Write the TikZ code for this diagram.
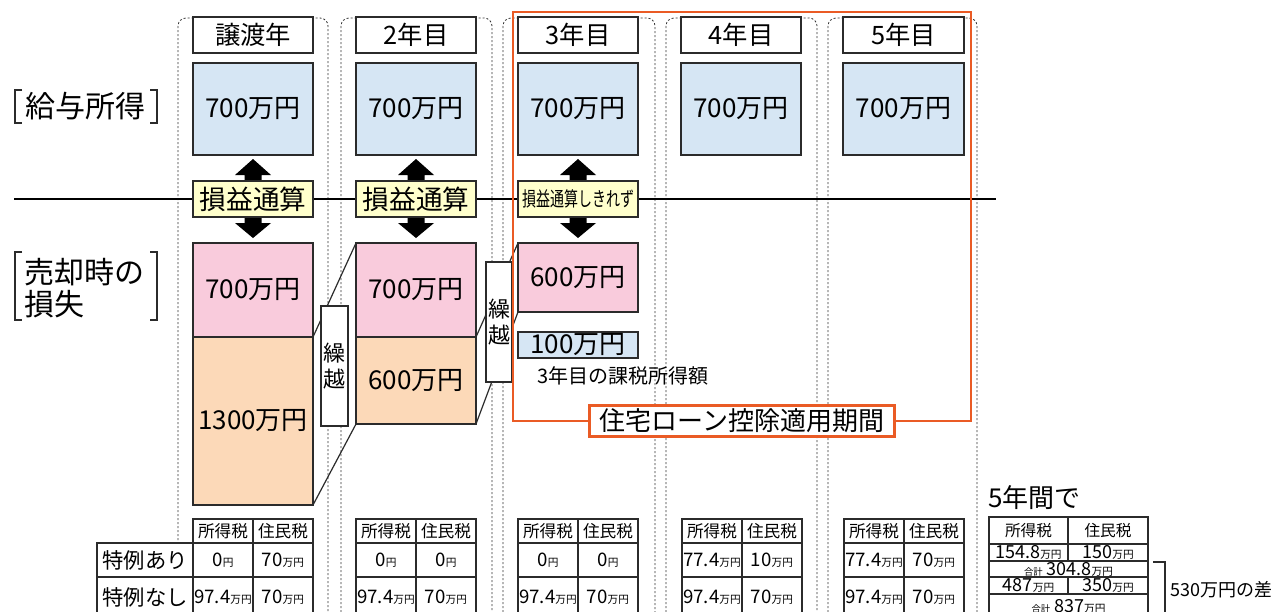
\documentclass[tikz,border=0pt]{standalone}
\usepackage{fontspec}
\setmainfont{Noto Sans CJK JP}
\usepackage{graphicx}
\definecolor{bluef}{HTML}{D6E6F4}
\definecolor{pinkf}{HTML}{F9CBDC}
\definecolor{peachf}{HTML}{FCD9B8}
\definecolor{yelf}{HTML}{FFFFCC}
\definecolor{orng}{HTML}{EA5B25}
\definecolor{edge}{HTML}{2B2B2B}
\newcommand{\fsz}[1]{\fontsize{#1}{#1}\selectfont}
\newcommand{\myman}{{\fsz{8}万円}}
\newcommand{\myen}{{\fsz{8}円}}
\newcommand{\mybox}[8]{%
  \node[boxst,#6,minimum width={(#4-#2)*0.75pt},minimum height={(#5-#3)*0.75pt}] (#1) at (#2,#3) {};
  \node[txtst,#7] (#1t) at (#1.center) {#8};}
\newcommand{\dblarrow}[2]{%
  \fill[black] (#1,159) -- ({#1+18},175) -- ({#1+8.5},175) -- ({#1+8.5},223) -- ({#1+18},223) -- (#1,238)
   -- ({#1-18},223) -- ({#1-8.5},223) -- ({#1-8.5},175) -- ({#1-18},175) -- cycle;
  \coordinate (#2) at (#1,199);}
\begin{document}
\begin{tikzpicture}[x=0.75pt,y=-0.75pt,
  boxst/.style={draw=edge,line width=1pt,inner sep=0pt,outer sep=0pt,anchor=north west,fill=white},
  txtst/.style={inner sep=0pt,align=center,anchor=center},
  colst/.style={draw=black!80,line width=0.6pt,dash pattern=on 1.5pt off 1.5pt,rounded corners=6pt},
  bluebox/.style={fill=bluef},
  pinkbox/.style={fill=pinkf},
  peachbox/.style={fill=peachf},
  yelbox/.style={fill=yelf},
  cellbox/.style={line width=0.8pt},
  hdrf/.style={font=\fsz{19}},
  amtf/.style={font=\fsz{19.5}},
  sonf/.style={font=\fsz{20}},
  kurif/.style={font=\fontsize{16.5}{20}\selectfont},
  thf/.style={font=\fsz{12.5}},
  numf/.style={font=\fsz{14}},
  labf/.style={font=\fsz{16}},
  rtf/.style={font=\fsz{11.75}},
  rnf/.style={font=\fsz{13.5}},
  conn/.style={draw=edge,line width=0.9pt},
  brk/.style={draw=edge,line width=0.9pt},
]
\clip (0,0) rectangle (1280,611);
\fill[white] (0,0) rectangle (1280,611);
% dotted year columns
\foreach \a/\b in {178/328, 341/492, 503/655, 666/817, 828/977}
  \draw[colst] (\a,660) -- (\a,18) -- (\b,18) -- (\b,660);
% dividing line
\coordinate (hl0) at (14,199);
\coordinate (hl1) at (996,199);
\draw[line width=1.4pt] (hl0) -- (hl1);
% left labels
\node[font=\fsz{22.5},inner sep=0] (kyuyo) at (85,106) {給与所得};
\draw[brk] (22,90) -- (15,90) -- (15,123) -- (22,123);
\draw[brk] (150,90) -- (157,90) -- (157,123) -- (150,123);
\node[font=\fontsize{22.5}{24}\selectfont,inner sep=0,align=left,anchor=west] (sonshitsu) at (24,288) {売却時の\\損失};
\draw[brk] (22,252) -- (15,252) -- (15,320) -- (22,320);
\draw[brk] (150,252) -- (157,252) -- (157,320) -- (150,320);
% year headers
\mybox{y1}{193}{17}{313}{53}{}{hdrf}{譲渡年}
\mybox{y2}{356}{17}{476}{53}{}{hdrf}{2年目}
\mybox{y3}{518}{17}{638}{53}{}{hdrf}{3年目}
\mybox{y4}{681}{17}{801}{53}{}{hdrf}{4年目}
\mybox{y5}{843}{17}{964}{53}{}{hdrf}{5年目}
% salary boxes
\mybox{s1}{193}{63}{313}{155}{bluebox}{amtf}{700万円}
\mybox{s2}{356}{63}{476}{155}{bluebox}{amtf}{700万円}
\mybox{s3}{518}{63}{638}{155}{bluebox}{amtf}{700万円}
\mybox{s4}{681}{63}{801}{155}{bluebox}{amtf}{700万円}
\mybox{s5}{843}{63}{964}{155}{bluebox}{amtf}{700万円}
% loss boxes
\mybox{c1a}{193}{243}{313}{337}{pinkbox}{amtf}{700万円}
\mybox{c1b}{193}{337}{313}{505}{peachbox}{amtf}{1300万円}
\mybox{c2a}{356}{243}{476}{337}{pinkbox}{amtf}{700万円}
\mybox{c2b}{356}{337}{476}{424}{peachbox}{amtf}{600万円}
\mybox{c3a}{518}{243}{638}{312}{pinkbox}{amtf}{600万円}
\mybox{c3b}{518}{332}{638}{358}{bluebox}{amtf}{100万円}
\node[font=\fsz{15},inner sep=0] (c3lbl) at (623,376) {3年目の課税所得額};
% carry-over connectors
\draw[conn] (c1b.north east) -- (c2a.north west);
\draw[conn] (c1b.south east) -- (c2b.south west);
\draw[conn] (c2b.north east) -- (c3a.north west);
\draw[conn] (c2b.south east) -- (c3a.south west);
\mybox{k1}{321}{306}{348}{426}{}{kurif}{繰\\越}
\mybox{k2}{486}{262}{512}{382}{}{kurif}{繰\\越}
% housing loan period
\node[draw=orng,line width=2pt,inner sep=0,outer sep=0,anchor=north west,
  minimum width={(971-513)*0.75pt},minimum height={(421-12)*0.75pt}] (period) at (513,12) {};
% arrows and offset labels
\dblarrow{253}{a1}
\dblarrow{416}{a2}
\dblarrow{578}{a3}
\mybox{o1}{193}{181}{313}{217}{yelbox}{sonf}{損益通算}
\mybox{o2}{356}{181}{476}{217}{yelbox}{sonf}{損益通算}
\mybox{o3}{518}{181}{638}{217}{yelbox}{}{\scalebox{0.7}[1]{\fsz{15}損益通算しきれず}}
\node[draw=orng,line width=2pt,fill=white,inner sep=0,
  minimum width={(888-583)*0.75pt},minimum height={(438-407)*0.75pt},font=\fsz{19.5}]
  (plabel) at (period.south) {住宅ローン控除適用期間};
% tax tables
\mybox{la}{97}{543}{193}{577}{cellbox}{labf}{特例あり}
\mybox{lb}{97}{577}{193}{617}{cellbox}{labf}{特例なし}
% T1
\mybox{t1h1}{193}{519}{253}{543}{cellbox}{thf}{所得税}
\mybox{t1h2}{253}{519}{313}{543}{cellbox}{thf}{住民税}
\mybox{t1a1}{193}{543}{253}{577}{cellbox}{numf}{0\myen}
\mybox{t1a2}{253}{543}{313}{577}{cellbox}{numf}{70\myman}
\mybox{t1b1}{193}{577}{253}{617}{cellbox}{numf}{97.4\myman}
\mybox{t1b2}{253}{577}{313}{617}{cellbox}{numf}{70\myman}
% T2
\mybox{t2h1}{356}{519}{416}{543}{cellbox}{thf}{所得税}
\mybox{t2h2}{416}{519}{476}{543}{cellbox}{thf}{住民税}
\mybox{t2a1}{356}{543}{416}{577}{cellbox}{numf}{0\myen}
\mybox{t2a2}{416}{543}{476}{577}{cellbox}{numf}{0\myen}
\mybox{t2b1}{356}{577}{416}{617}{cellbox}{numf}{97.4\myman}
\mybox{t2b2}{416}{577}{476}{617}{cellbox}{numf}{70\myman}
% T3
\mybox{t3h1}{518}{519}{578}{543}{cellbox}{thf}{所得税}
\mybox{t3h2}{578}{519}{638}{543}{cellbox}{thf}{住民税}
\mybox{t3a1}{518}{543}{578}{577}{cellbox}{numf}{0\myen}
\mybox{t3a2}{578}{543}{638}{577}{cellbox}{numf}{0\myen}
\mybox{t3b1}{518}{577}{578}{617}{cellbox}{numf}{97.4\myman}
\mybox{t3b2}{578}{577}{638}{617}{cellbox}{numf}{70\myman}
% T4
\mybox{t4h1}{682}{519}{742}{543}{cellbox}{thf}{所得税}
\mybox{t4h2}{742}{519}{802}{543}{cellbox}{thf}{住民税}
\mybox{t4a1}{682}{543}{742}{577}{cellbox}{numf}{77.4\myman}
\mybox{t4a2}{742}{543}{802}{577}{cellbox}{numf}{10\myman}
\mybox{t4b1}{682}{577}{742}{617}{cellbox}{numf}{97.4\myman}
\mybox{t4b2}{742}{577}{802}{617}{cellbox}{numf}{70\myman}
% T5
\mybox{t5h1}{844}{519}{904}{543}{cellbox}{thf}{所得税}
\mybox{t5h2}{904}{519}{964}{543}{cellbox}{thf}{住民税}
\mybox{t5a1}{844}{543}{904}{577}{cellbox}{numf}{77.4\myman}
\mybox{t5a2}{904}{543}{964}{577}{cellbox}{numf}{70\myman}
\mybox{t5b1}{844}{577}{904}{617}{cellbox}{numf}{97.4\myman}
\mybox{t5b2}{904}{577}{964}{617}{cellbox}{numf}{70\myman}
% five-year summary
\node[font=\fsz{19.5},inner sep=0,anchor=west] (five) at (988,498) {5年間で};
\mybox{ra1}{989}{517}{1068}{544}{cellbox}{rtf}{所得税}
\mybox{ra2}{1068}{517}{1148}{544}{cellbox}{rtf}{住民税}
\mybox{rb1}{989}{544}{1068}{561}{cellbox}{rnf}{154.8\myman}
\mybox{rb2}{1068}{544}{1148}{561}{cellbox}{rnf}{150\myman}
\mybox{rc}{989}{561}{1148}{577}{cellbox}{rnf}{{\fsz{7}合計} 304.8\myman}
\mybox{rd1}{989}{577}{1068}{594}{cellbox}{rnf}{487\myman}
\mybox{rd2}{1068}{577}{1148}{594}{cellbox}{rnf}{350\myman}
\mybox{re}{989}{594}{1148}{618}{cellbox}{rnf}{{\fsz{7}合計} 837\myman}
\coordinate (bk0) at (1153,562);
\coordinate (bk1) at (1165,562);
\coordinate (bk2) at (1165,660);
\draw[brk] (bk0) -- (bk1) -- (bk2);
\node[font=\fsz{13.5},inner sep=0,anchor=west] (diff) at (1170,590) {530万円の差};
\end{tikzpicture}
\end{document}
